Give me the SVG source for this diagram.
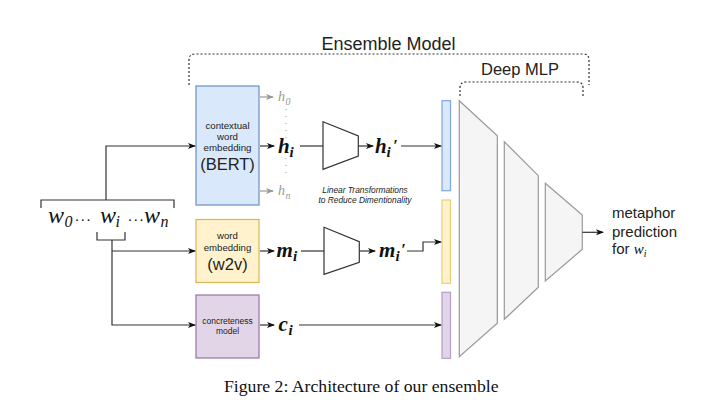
<svg xmlns="http://www.w3.org/2000/svg" width="720" height="413" viewBox="0 0 720 413">
<style>
.sans{font-family:"Liberation Sans",Arial,sans-serif;fill:#222}
.serif{font-family:"Liberation Serif","Times New Roman",serif;fill:#111}
.mi{font-family:"Liberation Serif","Times New Roman",serif;font-style:italic;fill:#111}
.mb{font-family:"Liberation Serif","Times New Roman",serif;font-style:italic;font-weight:bold;fill:#111}
.gr{font-family:"Liberation Serif","Times New Roman",serif;font-style:italic;fill:#999}
.ln{fill:none;stroke:#333;stroke-width:1.2}
.lg{fill:none;stroke:#999;stroke-width:1.2}
.dot{fill:none;stroke:#333;stroke-width:1.2;stroke-dasharray:2 2}
.trap{fill:#fff;stroke:#333;stroke-width:1.2}
.mlp{fill:#f5f5f5;stroke:#999;stroke-width:1.2}
</style>
<defs>
<marker id="a" markerWidth="8" markerHeight="6" refX="7" refY="3" orient="auto" markerUnits="userSpaceOnUse">
<path d="M0,0 L8,3 L0,6 L2,3 z" fill="#111"/>
</marker>
<marker id="ag" markerWidth="8" markerHeight="6" refX="7" refY="3" orient="auto" markerUnits="userSpaceOnUse">
<path d="M0,0 L8,3 L0,6 L2,3 z" fill="#999"/>
</marker>
</defs>
<rect width="720" height="413" fill="#fff"/>

<g id="ensemble-bracket">
<path class="dot" d="M189,85 L189,60 Q189,54 195,54 L583,54 Q589,54 589,60 L589,85"/>
<text class="sans" x="388.5" y="49.5" font-size="18" text-anchor="middle">Ensemble Model</text>
</g>
<g id="mlp-bracket">
<path class="dot" d="M460,96 L460,88 Q460,82 466,82 L577,82 Q583,82 583,88 L583,96"/>
<text class="sans" x="520" y="75" font-size="16.5" text-anchor="middle">Deep MLP</text>
</g>

<g id="words">
<path class="ln" d="M41,208 L41,200 L174,200 L174,208"/>
<path class="ln" d="M97,232 L97,240 L125,240 L125,232"/>
<text class="mi" x="48" y="223" font-size="24">w</text>
<text class="mi" x="64.5" y="227" font-size="16">0</text>
<text class="serif" x="74.5" y="225" font-size="15" letter-spacing="0.8">···</text>
<text class="mi" x="100" y="223" font-size="24">w</text>
<text class="mi" x="115.5" y="227" font-size="16">i</text>
<text class="serif" x="127.5" y="225" font-size="15" letter-spacing="0.8">···</text>
<text class="mi" x="144" y="223" font-size="24">w</text>
<text class="mi" x="160.5" y="227" font-size="16">n</text>
</g>

<g id="bert">
<rect x="196" y="86" width="63" height="119" fill="#dae8fc" stroke="#6c8ebf" stroke-width="1.2"/>
<text class="sans" x="227.5" y="129" font-size="9.7" text-anchor="middle">contextual</text>
<text class="sans" x="227.5" y="140" font-size="9.7" text-anchor="middle">word</text>
<text class="sans" x="227.5" y="150.7" font-size="9.7" text-anchor="middle">embedding</text>
<text class="sans" x="227.5" y="169.5" font-size="16.5" text-anchor="middle">(BERT)</text>
</g>
<g id="w2v">
<rect x="196" y="219.5" width="63" height="63" fill="#fff2cc" stroke="#d6b656" stroke-width="1.2"/>
<text class="sans" x="227.5" y="239.3" font-size="9.6" text-anchor="middle">word</text>
<text class="sans" x="227.5" y="250.7" font-size="9.6" text-anchor="middle">embedding</text>
<text class="sans" x="227.5" y="270" font-size="16.5" text-anchor="middle">(w2v)</text>
</g>
<g id="concreteness">
<rect x="196" y="295" width="63" height="63" fill="#e1d5e7" stroke="#9673a6" stroke-width="1.2"/>
<text class="sans" x="227.5" y="324.3" font-size="8.5" text-anchor="middle">concreteness</text>
<text class="sans" x="227.5" y="334" font-size="8.5" text-anchor="middle">model</text>
</g>

<g id="labels">
<text class="gr" x="278" y="101" font-size="14">h</text>
<text class="gr" x="285.5" y="104.5" font-size="10">0</text>
<text class="gr" x="278" y="195" font-size="14">h</text>
<text class="gr" x="285.5" y="198.5" font-size="10">n</text>
<path d="M286,109 L286,177" fill="none" stroke="#aaa" stroke-width="1.2" stroke-dasharray="1 6"/>
<text class="mb" x="278" y="153" font-size="21">h</text>
<text class="mb" x="289.5" y="157" font-size="15">i</text>
<text class="mb" x="375" y="153" font-size="21">h</text>
<text class="mb" x="386.5" y="157" font-size="15">i</text>
<text class="mb" x="393" y="151" font-size="17">′</text>
<text class="mb" x="276.5" y="257" font-size="21">m</text>
<text class="mb" x="293" y="261" font-size="15">i</text>
<text class="mb" x="379" y="257" font-size="21">m</text>
<text class="mb" x="395.5" y="261" font-size="15">i</text>
<text class="mb" x="401" y="255" font-size="17">′</text>
<text class="mb" x="278.5" y="331" font-size="21">c</text>
<text class="mb" x="288.5" y="335" font-size="15">i</text>
<text class="sans" x="365" y="193.3" font-size="8.4" font-style="italic" text-anchor="middle">Linear Transformations</text>
<text class="sans" x="365" y="202.7" font-size="8.4" font-style="italic" text-anchor="middle">to Reduce Dimentionality</text>
</g>

<g id="linear-h">
<polygon class="trap" points="323,121.7 358.3,136 358.3,156 323,169.3"/>
</g>
<g id="linear-m">
<polygon class="trap" points="324,227.3 359.3,241.7 359.3,262.3 324,274.3"/>
</g>

<g id="bars">
<rect x="442" y="100.7" width="8.5" height="90" fill="#dae8fc" stroke="#7ea6e0" stroke-width="1.2"/>
<rect x="442" y="200" width="8.5" height="83.3" fill="#fff2cc" stroke="#e8cf7a" stroke-width="1.2"/>
<rect x="442" y="292.3" width="8.5" height="66" fill="#e1d5e7" stroke="#b79cc6" stroke-width="1.2"/>
</g>

<g id="mlp">
<polygon class="mlp" points="459.3,100.7 497.3,135.7 497.3,323.3 459.3,356.7"/>
<polygon class="mlp" points="504.3,141.7 538.3,175.7 538.3,287.3 504.3,319.3"/>
<polygon class="mlp" points="545.3,183.3 582.3,215 582.3,249.3 545.3,281"/>
</g>

<g id="output">
<text class="sans" x="612" y="218.3" font-size="15">metaphor</text>
<text class="sans" x="612" y="236.7" font-size="15">prediction</text>
<text class="sans" x="612" y="254" font-size="15">for <tspan class="mi" font-size="15">w</tspan><tspan class="mi" font-size="10" dy="2.5">i</tspan></text>
</g>

<g id="connectors">
<path class="ln" d="M106,200 L106,146 L195,146" marker-end="url(#a)"/>
<path class="ln" d="M112,240 L112,325 L195,325" marker-end="url(#a)"/>
<path class="ln" d="M112,251 L195,251" marker-end="url(#a)"/>
<path class="lg" d="M260,97 L273,97" marker-end="url(#ag)"/>
<path class="lg" d="M260,191 L273,191" marker-end="url(#ag)"/>
<path class="ln" d="M260,146 L274,146" marker-end="url(#a)"/>
<path class="ln" d="M300,146 L323,146"/>
<path class="ln" d="M358.3,146 L373,146" marker-end="url(#a)"/>
<path class="ln" d="M401,146 L441,146" marker-end="url(#a)"/>
<path class="ln" d="M260,251 L274,251" marker-end="url(#a)"/>
<path class="ln" d="M301,251 L324,251"/>
<path class="ln" d="M359.3,251 L375,251" marker-end="url(#a)"/>
<path class="ln" d="M407,251 L423,251 L423,242 L441,242" marker-end="url(#a)"/>
<path class="ln" d="M260,325 L274,325" marker-end="url(#a)"/>
<path class="ln" d="M299,325 L441,325" marker-end="url(#a)"/>
<path class="ln" d="M582.3,232.3 L603,232.3" marker-end="url(#a)"/>
</g>

<text class="serif" x="224" y="392" font-size="17.7">Figure 2: Architecture of our ensemble</text>
</svg>
